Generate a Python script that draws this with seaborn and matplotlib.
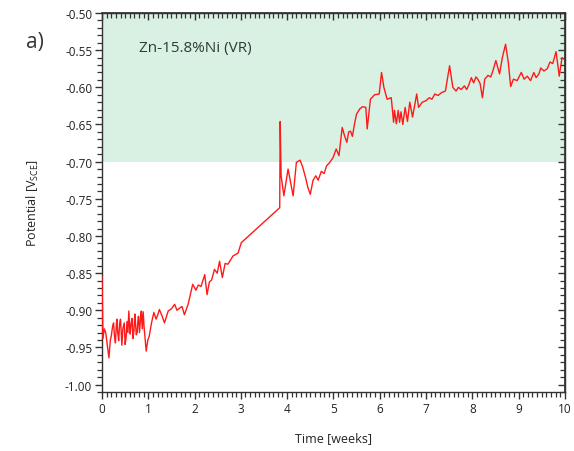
import matplotlib
matplotlib.use("Agg")
import matplotlib.pyplot as plt
from matplotlib.ticker import MultipleLocator, FormatStrFormatter
import seaborn as sns
import pandas as pd

# Open-circuit potential of Zn-15.8%Ni (VR) over ten weeks
time_weeks = [
    0.00, 0.02, 0.05, 0.08, 0.11, 0.15, 0.18, 0.20, 0.23, 0.25, 0.27, 0.29,
    0.31, 0.32, 0.34, 0.36, 0.38, 0.40, 0.42, 0.43, 0.45, 0.48, 0.50, 0.52,
    0.54, 0.56, 0.58, 0.60, 0.61, 0.63, 0.65, 0.67, 0.69, 0.71, 0.72, 0.74,
    0.76, 0.78, 0.79, 0.81, 0.82, 0.84, 0.85, 0.87, 0.89, 0.91, 0.955, 0.99,
    1.02, 1.07, 1.12, 1.17, 1.21, 1.24, 1.30, 1.35, 1.43, 1.50, 1.57, 1.62,
    1.68, 1.73, 1.78, 1.86, 1.96, 2.03, 2.08, 2.14, 2.22, 2.27, 2.32, 2.37,
    2.43, 2.49, 2.54, 2.60, 2.66, 2.72, 2.76, 2.83, 2.94, 3.01, 3.84, 3.85,
    3.87, 3.93, 4.02, 4.13, 4.20, 4.28, 4.34, 4.40, 4.45, 4.50, 4.56, 4.62,
    4.67, 4.74, 4.80, 4.85, 4.92, 4.99, 5.06, 5.12, 5.19, 5.24, 5.29, 5.33,
    5.37, 5.41, 5.46, 5.50, 5.57, 5.63, 5.70, 5.73, 5.80, 5.89, 5.99, 6.04,
    6.09, 6.16, 6.25, 6.30, 6.32, 6.36, 6.40, 6.43, 6.46, 6.50, 6.55, 6.60,
    6.65, 6.71, 6.80, 6.84, 6.92, 7.00, 7.07, 7.13, 7.19, 7.26, 7.34, 7.42,
    7.51, 7.58, 7.65, 7.70, 7.76, 7.83, 7.88, 7.93, 7.98, 8.03, 8.08, 8.12,
    8.17, 8.22, 8.27, 8.34, 8.40, 8.44, 8.51, 8.59, 8.65, 8.72, 8.78, 8.83,
    8.89, 8.97, 9.06, 9.12, 9.19, 9.26, 9.33, 9.38, 9.44, 9.48, 9.55, 9.62,
    9.68, 9.74, 9.81, 9.88, 9.94, 9.98,
]
potential_v = [
    -0.855, -0.938, -0.925, -0.930, -0.945, -0.964, -0.940, -0.935, -0.921,
    -0.917, -0.935, -0.944, -0.920, -0.912, -0.930, -0.941, -0.918, -0.912,
    -0.936, -0.947, -0.925, -0.917, -0.946, -0.937, -0.915, -0.930, -0.901,
    -0.925, -0.932, -0.917, -0.911, -0.938, -0.928, -0.905, -0.913, -0.933,
    -0.930, -0.910, -0.908, -0.930, -0.921, -0.905, -0.901, -0.925, -0.902,
    -0.923, -0.955, -0.940, -0.935, -0.917, -0.903, -0.912, -0.905, -0.899,
    -0.908, -0.917, -0.901, -0.898, -0.892, -0.900, -0.897, -0.895, -0.906,
    -0.892, -0.865, -0.873, -0.866, -0.868, -0.852, -0.879, -0.862, -0.859,
    -0.845, -0.850, -0.834, -0.856, -0.837, -0.838, -0.834, -0.827, -0.823,
    -0.809, -0.762, -0.646, -0.719, -0.746, -0.710, -0.746, -0.701, -0.698,
    -0.708, -0.722, -0.735, -0.744, -0.725, -0.719, -0.725, -0.713, -0.716,
    -0.706, -0.701, -0.695, -0.683, -0.692, -0.654, -0.665, -0.674, -0.660,
    -0.659, -0.666, -0.648, -0.636, -0.629, -0.626, -0.627, -0.656, -0.616,
    -0.610, -0.609, -0.580, -0.600, -0.616, -0.614, -0.647, -0.631, -0.649,
    -0.631, -0.647, -0.633, -0.650, -0.627, -0.646, -0.620, -0.640, -0.609,
    -0.627, -0.620, -0.618, -0.614, -0.616, -0.609, -0.611, -0.607, -0.605,
    -0.571, -0.600, -0.605, -0.600, -0.603, -0.598, -0.603, -0.596, -0.587,
    -0.594, -0.586, -0.589, -0.595, -0.614, -0.589, -0.584, -0.586, -0.579,
    -0.564, -0.582, -0.560, -0.542, -0.567, -0.599, -0.589, -0.591, -0.580,
    -0.589, -0.585, -0.591, -0.580, -0.587, -0.582, -0.574, -0.578, -0.575,
    -0.566, -0.568, -0.552, -0.585, -0.560, -0.562,
]

x_ticks = [0, 1, 2, 3, 4, 5, 6, 7, 8, 9, 10]
band_low, band_high = -0.70, -0.50

sns.set_theme(style="ticks")
plt.rcParams["font.family"] = ["Open Sans", "DejaVu Sans"]
plt.rcParams["mathtext.fontset"] = "custom"
plt.rcParams["mathtext.rm"] = "Open Sans"

df = pd.DataFrame({"Time [weeks]": time_weeks, "Potential": potential_v})

fig = plt.figure(figsize=(5.74, 4.52), dpi=100)
ax = fig.add_axes([0.1777, 0.1305, 0.8063, 0.8385])

ax.axhspan(band_low, band_high, color="#d8f1e2", lw=0, zorder=0)
sns.lineplot(data=df, x="Time [weeks]", y="Potential", ax=ax, color="#ff1a1a",
             linewidth=1.0, estimator=None, sort=False, zorder=3)

ax.set_xlim(0, 10)
ax.set_ylim(-1.01, -0.50)
ax.set_xticks(x_ticks)
ax.minorticks_on()
ax.xaxis.set_minor_locator(MultipleLocator(0.1))
ax.yaxis.set_major_locator(MultipleLocator(0.05))
ax.yaxis.set_minor_locator(MultipleLocator(0.01))
ax.yaxis.set_major_formatter(FormatStrFormatter("%.2f"))

spine_color = "#333333"
for s in ax.spines.values():
    s.set_color(spine_color)
    s.set_linewidth(1.0)
ax.tick_params(which="major", direction="out", length=5, width=1.0,
               color=spine_color, labelsize=8.5, labelcolor="#222222", pad=2)
ax.tick_params(which="minor", direction="out", length=3.5, width=0.9,
               color=spine_color)

# mirrored inward ticks on the top and right edges
top = ax.secondary_xaxis("top")
top.set_xticks(x_ticks)
top.xaxis.set_minor_locator(MultipleLocator(0.1))
top.tick_params(which="major", direction="in", length=5, width=1.0,
                color=spine_color, labeltop=False)
top.tick_params(which="minor", direction="in", length=3.5, width=0.9,
                color=spine_color)
right = ax.secondary_yaxis("right")
right.yaxis.set_major_locator(MultipleLocator(0.05))
right.yaxis.set_minor_locator(MultipleLocator(0.01))
right.tick_params(which="major", direction="in", length=5, width=1.0,
                  color=spine_color, labelright=False)
right.tick_params(which="minor", direction="in", length=3.5, width=0.9,
                  color=spine_color)
for sec in (top, right):
    for s in sec.spines.values():
        s.set_color(spine_color)

ax.set_xlabel("Time [weeks]", fontsize=9, color="#222222", labelpad=12)
ax.set_ylabel(r"Potential [V$_{\mathrm{SCE}}$]", fontsize=9, color="#222222",
              labelpad=17)

ax.text(0.08, 0.93, "Zn-15.8%Ni (VR)", transform=ax.transAxes, fontsize=11,
        color="#2e3b36", va="top", ha="left")
fig.text(0.045, 0.905, "a)", fontsize=15, color="#333333", va="center")

fig.savefig("out.png", dpi=100)
